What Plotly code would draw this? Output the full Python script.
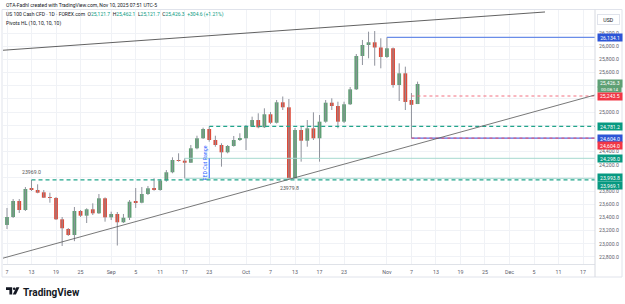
import plotly.graph_objects as go

FONT = "Roboto"

# ---------------- data ----------------
dates = ["2025-08-07","2025-08-08","2025-08-11","2025-08-12","2025-08-13","2025-08-14","2025-08-15",
         "2025-08-18","2025-08-19","2025-08-20","2025-08-21","2025-08-22","2025-08-25","2025-08-26",
         "2025-08-27","2025-08-28","2025-08-29","2025-09-01","2025-09-02","2025-09-03","2025-09-04",
         "2025-09-05","2025-09-08","2025-09-09","2025-09-10","2025-09-11","2025-09-12","2025-09-15",
         "2025-09-16","2025-09-17","2025-09-18","2025-09-19","2025-09-22","2025-09-23","2025-09-24",
         "2025-09-25","2025-09-26","2025-09-29","2025-09-30","2025-10-01","2025-10-02","2025-10-03",
         "2025-10-06","2025-10-07","2025-10-08","2025-10-09","2025-10-10","2025-10-13","2025-10-14",
         "2025-10-15","2025-10-16","2025-10-17","2025-10-20","2025-10-21","2025-10-22","2025-10-23",
         "2025-10-24","2025-10-27","2025-10-28","2025-10-29","2025-10-30","2025-10-31","2025-11-03",
         "2025-11-04","2025-11-05","2025-11-06","2025-11-07","2025-11-10"]

opens = [23286,23407,23650,23513,23837,23817,23782,23703,23696,23372,23225,23134,23498,23427,
         23524,23463,23691,23402,23453,23327,23396,23639,23624,23756,23843,23817,23961,24086,
         24272,24262,24231,24450,24602,24743,24576,24500,24389,24485,24576,24602,24778,24879,
         24769,24966,24838,25148,25072,23992,24728,24565,24753,24602,24854,25142,25092,24854,
         25118,25345,25851,26018,26059,25980,25836,25968,25411,25588,25183,25121.7]
highs = [23544,23680,23680,23862,23969,23903,23817,23776,23710,23407,23240,23559,23513,23539,
         23615,23756,23705,23488,23483,23453,23665,23847,23862,23878,23995,23975,24120,24313,
         24374,24298,24500,24641,24763,24781.2,24641,24526,24500,24637,24678,24804,24930,24981,
         25057,25001,25183,25236,25198,24758,24778,24879,24996,24955,25183,25209,25157,25157,
         25380,25881,26094,26220,26230,26120,26134.1,25980,25740,25689,25289,25462.1]
lows = [23225,23392,23468,23498,23802,23767,23695,23624,23361,22967,23119,23040,23407,23316,
        23437,23453,23336,23361,22974,23316,23361,23544,23615,23741,23806,23806,23943,24071,
        24247,23993.8,24227,24435,24591,24550,24474,24171,24374,24474,24561,24424,24773,24754,
        24758,24819,24826,25031,23979.8,23985,24247,24474,24576,24247,24838,25031,24754,24834,
        25107,25335,25714,25816,25704,25664,25820,25370,25168,25031,24604.0,25121.7]
closes = [23407,23650,23513,23832,23817,23776,23700,23696,23372,23236,23134,23498,23427,23524,
          23463,23691,23402,23453,23327,23396,23639,23624,23756,23843,23817,23961,24086,24272,
          24262,24231,24450,24602,24743,24576,24500,24389,24485,24576,24602,24778,24879,24769,
          24966,24838,25148,25072,23992,24728,24565,24753,24602,24854,25142,25092,24854,25118,
          25345,25851,26018,26059,25980,25836,25968,25411,25588,25153,25110,25426.3]

tick_dates = ["2025-08-07","2025-08-13","2025-08-19","2025-08-25","2025-09-01","2025-09-05","2025-09-11",
              "2025-09-17","2025-09-23","2025-10-01","2025-10-07","2025-10-13","2025-10-17","2025-10-23",
              "2025-11-03","2025-11-07","2025-11-13","2025-11-19","2025-11-25","2025-12-01","2025-12-05",
              "2025-12-11","2025-12-17"]
tick_text = ["7","13","19","25","Sep","5","11","17","23","Oct","7","13","17","23",
             "Nov","7","13","19","25","Dec","5","11","17"]
price_ticks = [22800,23000,23200,23400,23600,23800,24000,24200,24400,24600,24800,
               25000,25200,25400,25600,25800,26000,26200]
covered_ticks = [24000, 24600, 24800, 25200, 25400]   # hidden behind price labels

# levels / drawings
aug_pivot_date, aug_pivot_level, aug_pivot_text = "2025-08-13", 23969.1, "23969.0"
sep_pivot_date, sep_pivot_level = "2025-09-23", 24781.2
fed_date, fed_bracket_date, fed_high, fed_low = "2025-09-17", "2025-09-23", 24298.0, 23993.8
oct_low_date, oct_low_level, oct_low_text = "2025-10-10", 23979.8, "23979.8"
nov_high_date, nov_high_level = "2025-11-03", 26134.1
nov_low_date, nov_low_level = "2025-11-07", 24604.0
prev_close_level = 25243.5
last_price, countdown = 25426.3, "00:08:14"
change_text = "+304.6 (+1.21%)"
bottom_label = 22668.1
upper_trend = (["2025-08-05 20:35", "2025-12-08 19:00"], [25935, 26519])
lower_trend = (["2025-08-05 20:35", "2025-12-18 22:50"], [22769.5, 25259])

X_START, X_END = "2025-08-06 08:20", "2025-12-18 22:50"
Y_MIN, Y_MAX = 22693.6, 26549.1

# ---------------- style ----------------
W, H = 625, 304
ML, MR, MT, MB = 3, 30, 10, 40
UP, DOWN = "#5fa074", "#de4a38"
WICK = "#8f929c"
TEAL = "#089981"
BLUE = "#2d55d6"
RED = "#f23645"

def px_x(px):
    return (px - ML) / (W - ML - MR)

def px_y(py):
    return (H - MB - py) / (H - MT - MB)

fig = go.Figure()

# wicks
wx, wy = [], []
for d, h, l in zip(dates, highs, lows):
    wx += [d, d, None]
    wy += [l, h, None]
fig.add_trace(go.Scatter(x=wx, y=wy, mode="lines", line=dict(color=WICK, width=1),
                         hoverinfo="skip", showlegend=False))

# bodies
base = [min(o, c) for o, c in zip(opens, closes)]
height = [max(abs(c - o), 9) for o, c in zip(opens, closes)]
colors = [UP if c >= o else DOWN for o, c in zip(opens, closes)]
fig.add_trace(go.Bar(x=dates, y=height, base=base, width=0.62 * 86400000,
                     marker=dict(color=colors, line=dict(width=0)),
                     hoverinfo="skip", showlegend=False))

shapes = []
def hline(x0, level, color, width=1, dash="solid"):
    shapes.append(dict(type="line", xref="x", yref="y", x0=x0, x1=X_END, y0=level, y1=level,
                       line=dict(color=color, width=width, dash=dash)))

hline(fed_date, fed_high, "#a6d9cf", 1)
hline(fed_date, fed_low, "#a6d9cf", 1)
hline(aug_pivot_date, aug_pivot_level, "#22a58b", 1.2, "4px,3px")
hline(sep_pivot_date, sep_pivot_level, "#22a58b", 1.2, "4px,3px")
hline(nov_high_date, nov_high_level, "#6a8de8", 1.3)
hline(nov_low_date, nov_low_level, "#5c6fe0", 1.3)
hline(nov_low_date, nov_low_level, "#f0506a", 1, "dot")
hline(nov_low_date, prev_close_level, "#f27080", 1, "dot")

# trend lines
shapes.append(dict(type="line", xref="x", yref="y", x0=upper_trend[0][0], x1=upper_trend[0][1],
                   y0=upper_trend[1][0], y1=upper_trend[1][1], line=dict(color="#3a3a3a", width=0.8)))
shapes.append(dict(type="line", xref="x", yref="y", x0=lower_trend[0][0], x1=lower_trend[0][1],
                   y0=lower_trend[1][0], y1=lower_trend[1][1], line=dict(color="#555555", width=0.8)))
# FED bracket
shapes.append(dict(type="line", xref="x", yref="y", x0=fed_bracket_date, x1=fed_bracket_date,
                   y0=fed_low, y1=fed_high, line=dict(color="#2962ff", width=1)))

# chart frame
shapes.append(dict(type="rect", xref="paper", yref="paper", x0=px_x(2), x1=px_x(622),
                   y0=px_y(277), y1=px_y(9.5), line=dict(color="#e0e3eb", width=1), layer="below"))
shapes.append(dict(type="line", xref="paper", yref="paper", x0=1, x1=1,
                   y0=px_y(277), y1=px_y(9.5), line=dict(color="#d6d9e0", width=1)))

# TradingView logo
def P(x, y):
    return f"{px_x(x):.5f},{px_y(y):.5f}"
shapes.append(dict(type="path", xref="paper", yref="paper",
                   path=f"M{P(6,287.3)} L{P(12.2,287.3)} L{P(12.2,294.5)} L{P(9.4,294.5)} L{P(9.4,290)} L{P(6,290)} Z",
                   fillcolor="#131722", line=dict(width=0)))
shapes.append(dict(type="circle", xref="paper", yref="paper", x0=px_x(12.9), x1=px_x(15.5),
                   y0=px_y(290), y1=px_y(287.4), fillcolor="#131722", line=dict(width=0)))
shapes.append(dict(type="path", xref="paper", yref="paper",
                   path=f"M{P(16.3,287.3)} L{P(19.4,287.3)} L{P(15.9,294.5)} L{P(12.8,294.5)} Z",
                   fillcolor="#131722", line=dict(width=0)))

ann = []
def text_px(x, y, text, size=5.2, color="#333333", xanchor="left", **kw):
    ann.append(dict(xref="paper", yref="paper", x=px_x(x), y=px_y(y), text=text, showarrow=False,
                    xanchor=xanchor, yanchor="middle", font=dict(size=size, color=color, family=FONT), **kw))

G = "#089981"
text_px(4, 4.5, "OTA-Fadhl created with TradingView.com, Nov 10, 2025 07:51 UTC-5", 5.0, "#131722")
hdr = (f"US 100 Cash CFD · 1D · FOREX.com  "
       f"O<span style='color:{G}'>{opens[-1]:,.1f}</span>  H<span style='color:{G}'>{highs[-1]:,.1f}</span>  "
       f"L<span style='color:{G}'>{lows[-1]:,.1f}</span>  C<span style='color:{G}'>{closes[-1]:,.1f}</span>  "
       f"<span style='color:{G}'>{change_text}</span>")
text_px(4, 15, hdr, 5.0, "#131722")
text_px(4, 23.5, "Pivots HL (10, 10, 10, 10)", 5.0, "#131722")
text_px(20.5, 292, "<b>TradingView</b>", 10, "#131722")
text_px(204.5, 163, "FED Cut Range", 5.3, "#2962ff", xanchor="center", textangle=-90)

ann.append(dict(x=aug_pivot_date, y=aug_pivot_level, xref="x", yref="y", text=aug_pivot_text,
                showarrow=False, yanchor="bottom", yshift=3, font=dict(size=5.2, color="#555", family=FONT)))
ann.append(dict(x=oct_low_date, y=oct_low_level, xref="x", yref="y", text=oct_low_text,
                showarrow=False, yanchor="top", yshift=-4, xshift=1, font=dict(size=5.2, color="#555", family=FONT)))

def price_label(val, color, yshift=0, text=None, size=5.2, pad=0.6):
    ann.append(dict(xref="paper", x=1, xanchor="left", xshift=2, yref="y", y=val, yanchor="middle",
                    yshift=yshift, text=text or f"{val:,.1f}", showarrow=False,
                    font=dict(size=size, color="white", family=FONT), bgcolor=color,
                    borderpad=pad, width=23, align="center"))

price_label(nov_high_level, BLUE)
price_label(last_price, UP, 0.5, pad=0.4)
price_label(last_price, UP, -5.5, text=countdown, size=4.4, pad=0.2)
price_label(prev_close_level, RED, -0.5, pad=0.4)
price_label(sep_pivot_level, TEAL)
price_label(nov_low_level, BLUE)
price_label(nov_low_level, RED, -7.5)
price_label(fed_high, TEAL)
price_label(fed_low, TEAL, 1)
price_label(aug_pivot_level, TEAL, -5.5)
price_label(bottom_label, TEAL, 4.5)

ann.append(dict(xref="paper", yref="paper", x=1, xshift=2, xanchor="left", y=px_y(19), yanchor="middle",
                text="USD", showarrow=False, font=dict(size=5.2, color="#131722", family=FONT),
                bgcolor="white", bordercolor="#e0e3eb", borderwidth=1, borderpad=1.5, width=18))

fig.update_layout(
    width=W, height=H, margin=dict(l=ML, r=MR, t=MT, b=MB),
    paper_bgcolor="white", plot_bgcolor="white", showlegend=False, barmode="overlay",
    font=dict(family=FONT, size=5.5, color="#5d606b"),
    shapes=shapes, annotations=ann, hovermode=False,
    xaxis=dict(type="date", range=[X_START, X_END], rangebreaks=[dict(bounds=["sat", "mon"])],
               tickmode="array", tickvals=tick_dates, ticktext=tick_text,
               tickfont=dict(size=5.3, color="#5d606b"), ticks="", ticklabelstandoff=3,
               showgrid=True, gridcolor="#f0f2f6", gridwidth=1, showline=True, linecolor="#dfe2e8",
               linewidth=1, zeroline=False, fixedrange=True),
    yaxis=dict(side="right", range=[Y_MIN, Y_MAX], tickmode="array", tickvals=price_ticks,
               ticktext=["" if v in covered_ticks else f"{v:,.1f}" for v in price_ticks],
               tickfont=dict(size=5.2, color="#5d606b"),
               ticks="", ticklabelstandoff=3, showgrid=True, gridcolor="#f0f2f6", gridwidth=1,
               showline=False, zeroline=False, fixedrange=True),
)

fig.write_html("out.html")
